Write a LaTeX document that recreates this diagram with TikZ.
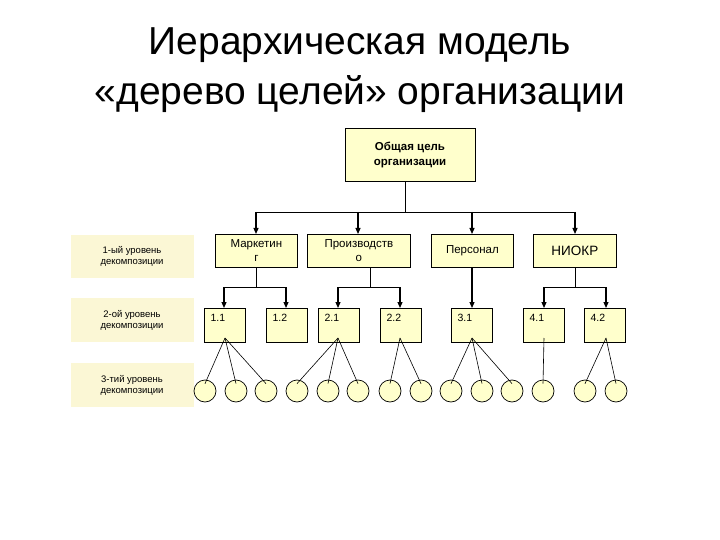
\documentclass[tikz,border=0pt]{standalone}
\usepackage{fontspec}
\setmainfont{Liberation Sans}
\usetikzlibrary{arrows.meta}
\definecolor{boxy}{HTML}{FFFFCC}
\definecolor{laby}{HTML}{FBF7D5}
\begin{document}
\begin{tikzpicture}[x=1pt,y=-1pt,
  bx/.style={draw=black,fill=boxy,line width=0.8pt},
  lab/.style={fill=laby,font=\fontsize{9.5}{11}\selectfont,align=center},
  circ/.style={draw=black,fill=boxy,circle,minimum size=22pt,inner sep=0pt,line width=0.7pt},
  arr/.style={-{Triangle[length=6pt,width=5pt]},line width=1.2pt},
  thin/.style={line width=0.6pt}]
\useasboundingbox (0,0) rectangle (720,540);
\node[font=\fontsize{39}{50}\selectfont,align=center] (title) at (360,70) {Иерархическая модель\\«дерево целей» организации};
% left labels
\node[lab,minimum width=123pt,minimum height=43pt] (l1) at (132,256) {1-ый уровень\\декомпозиции};
\node[lab,minimum width=123pt,minimum height=44pt] (l2) at (132,320) {2-ой уровень\\декомпозиции};
\node[lab,minimum width=123pt,minimum height=44pt] (l3) at (132,385) {3-тий уровень\\декомпозиции};
% top
\node[bx,minimum width=130pt,minimum height=53pt,font=\bfseries\fontsize{11.5}{15}\selectfont,align=center] (top) at (410,155) {Общая цель\\организации};
% level1
\tikzset{l1box/.style={bx,minimum height=33pt,anchor=north west,font=\fontsize{11.5}{14}\selectfont,align=center}}
\node[l1box,minimum width=82pt] (m) at (215,234) {Маркетин\\г};
\node[l1box,minimum width=103pt] (p) at (307,234) {Производств\\о};
\node[l1box,minimum width=82pt] (pe) at (431,234) {Персонал};
\node[l1box,minimum width=83pt,font=\fontsize{13.5}{16}\selectfont] (n) at (533,234) {НИОКР};
\coordinate (j) at (405,212);
\draw[thin] (top.south -| j) -- (j);
\draw[thin] (256,212) -- (575,212);
\foreach \x/\t in {256/m,358/p,472/pe,575/n} \draw[arr] (\x,212) -- (\x,234);
% level2
\tikzset{l2box/.style={bx,minimum width=41pt,minimum height=34pt,anchor=north west,inner sep=3pt}}
\foreach \n/\x/\t in {a/204/1.1,b/266/1.2,c/318/2.1,d/380/2.2,e/451/3.1,f/523/4.1,g/584/4.2}
  \node[l2box] (\n) at (\x,308) {};
\foreach \n/\x/\t in {a/204/1.1,b/266/1.2,c/318/2.1,d/380/2.2,e/451/3.1,f/523/4.1,g/584/4.2}
  \node[font=\fontsize{10.5}{12}\selectfont,anchor=north west] (t\n) at (\x+3,311) {\t};
\draw[thin] (256,267) -- (256,287);
\draw[thin] (224,287) -- (286,287);
\draw[arr] (224,287) -- (224,308);
\draw[arr] (286,287) -- (286,308);
\draw[thin] (370,267) -- (370,287);
\draw[thin] (338,287) -- (400,287);
\draw[arr] (338,287) -- (338,308);
\draw[arr] (400,287) -- (400,308);
\draw[arr] (472,267) -- (472,308);
\draw[thin] (575,267) -- (575,287);
\draw[thin] (544,287) -- (606,287);
\draw[arr] (544,287) -- (544,308);
\draw[arr] (606,287) -- (606,308);
% circles
\foreach \i/\x in {1/205,2/236,3/266,4/297,5/328,6/358,7/390,8/421,9/451,10/482,11/512,12/543,13/585,14/616}
  \node[circ] (c\i) at (\x,391) {};
\foreach \s/\x/\list in {a/225/{1,2,3},c/338/{4,5,6},d/400/{7,8},e/472/{9,10,11},f/544/{12},g/606/{13,14}}
  \foreach \i in \list \draw[thin] (\x,338) -- ([yshift=-4pt]c\i.north);
\end{tikzpicture}
\end{document}
